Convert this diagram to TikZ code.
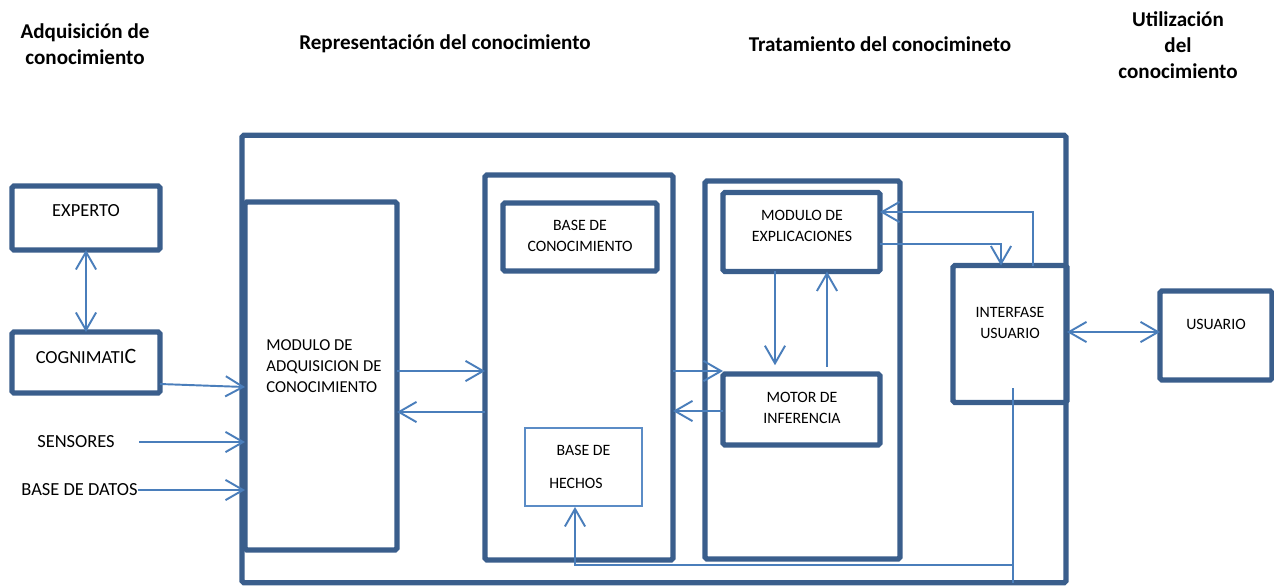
\documentclass[tikz,border=0pt]{standalone}
\usepackage{fontspec}
\setmainfont{Carlito}
\usetikzlibrary{arrows.meta}
\definecolor{caja}{HTML}{3A5E8C}
\definecolor{flecha}{HTML}{4A7EBB}
\definecolor{claro}{HTML}{5B8CC6}

\begin{document}
\begin{tikzpicture}[x=0.02cm,y=-0.02cm,
	bloque/.style={draw=caja,line width=3pt,rounded corners=1pt,inner sep=0pt,outer sep=0pt},
	texto/.style={font=\fontsize{9}{12}\selectfont,align=center,inner sep=0pt},
	entrada/.style={font=\fontsize{10.5}{12}\selectfont,inner sep=0pt},
	titulo/.style={font=\fontsize{12}{14.7}\selectfont\bfseries,align=center,inner sep=0pt},
	linea/.style={draw=flecha,line width=1.1pt},
	flujo/.style={linea,-{Straight Barb[length=10pt,width=11.5pt]}},
	doble/.style={linea,{Straight Barb[length=10pt,width=11.5pt]}-{Straight Barb[length=10pt,width=11.5pt]}}]
	\useasboundingbox (0,0) rectangle (1274,585);
	% titulos
	\node[titulo] (t1) at (85,44) {Adquisición de\\conocimiento};
	\node[titulo] (t2) at (445,44) {Representación del conocimiento};
	\node[titulo] (t3) at (880,44) {Tratamiento del conocimineto};
	\node[titulo] (t4) at (1178,45) {Utilización\\del\\conocimiento};
	% cajas
	\node[bloque,minimum width=16.48cm,minimum height=8.95cm] (marco) at (654,359) {};
	\node[bloque,minimum width=2.96cm,minimum height=1.28cm] (experto) at (86,218) {};
	\node[bloque,minimum width=2.96cm,minimum height=1.22cm] (cogni) at (86,362.5) {};
	\node[bloque,minimum width=3.04cm,minimum height=6.96cm] (adq) at (321,376) {};
	\node[bloque,minimum width=3.76cm,minimum height=7.7cm] (repre) at (579,367.5) {};
	\node[bloque,minimum width=3.08cm,minimum height=1.36cm] (basecon) at (580,237) {};
	\node[draw=claro,line width=1.1pt,inner sep=0pt,minimum width=2.34cm,minimum height=1.56cm] (hechos) at (583.5,467) {};
	\node[bloque,minimum width=3.9cm,minimum height=7.56cm] (trata) at (802.5,370) {};
	\node[bloque,minimum width=3.14cm,minimum height=1.58cm] (explic) at (801.5,232) {};
	\node[bloque,minimum width=3.14cm,minimum height=1.42cm] (motor) at (801.5,409.5) {};
	\node[bloque,minimum width=2.28cm,minimum height=2.74cm] (interfase) at (1010,334) {};
	\node[bloque,minimum width=2.24cm,minimum height=1.78cm] (usuario) at (1216,335.5) {};
	% textos
	\node[entrada] (experto-t) at (86,211) {EXPERTO};
	\node[entrada] (cogni-t) at (86,356) {COGNIMATI{\fontsize{12.5}{12}\selectfont C}};
	\node[entrada] (sensores) at (76,442) {SENSORES};
	\node[entrada] (datos) at (79.5,490) {BASE DE DATOS};
	\node[texto,font=\fontsize{9.5}{12}\selectfont,align=left,anchor=west] (adq-t) at (266,366) {MODULO DE\\ADQUISICION DE\\CONOCIMIENTO};
	\node[texto] (basecon-t) at (580,235.5) {BASE DE\\CONOCIMIENTO};
	\node[texto] (hechos-t1) at (583.5,450) {BASE DE};
	\node[texto] (hechos-t2) at (576,483) {HECHOS};
	\node[texto] (explic-t) at (802,225.5) {MODULO DE\\EXPLICACIONES};
	\node[texto] (motor-t) at (802,407.5) {MOTOR DE\\INFERENCIA};
	\node[texto] (interfase-t) at (1010,323) {INTERFASE\\USUARIO};
	\node[texto] (usuario-t) at (1216,324) {USUARIO};
	\coordinate (baja) at (1013,388);
	\coordinate (bus) at (1013,565);
	% flechas
	\draw[doble] (experto.south) -- (cogni.north);
	\draw[flujo] (cogni.east |- 0,384) -- (adq.west |- 0,387);
	\draw[flujo] (sensores.east) ++(24,0) -- (adq.west |- sensores.east);
	\draw[flujo] (datos.east) -- (adq.west |- datos.east);
	\draw[flujo] (adq.east |- 0,371) -- (repre.west |- 0,371);
	\draw[flujo] (repre.west |- 0,412) -- (adq.east |- 0,412);
	\draw[flujo] (repre.east |- 0,371) -- (motor.west |- 0,371);
	\draw[flujo] (motor.west |- 0,411) -- (repre.east |- 0,411);
	\draw[flujo,shorten >=5pt] (775,0 |- explic.south) -- (775,0 |- motor.north);
	\draw[flujo,shorten <=4pt] (827,0 |- motor.north) -- (827,0 |- explic.south);
	\draw[flujo] (1033,0 |- interfase.north) |- (explic.east |- 0,212);
	\draw[flujo] (explic.east |- 0,244) -| (1001,0 |- interfase.north);
	\draw[doble] (interfase.east |- 0,332) -- (usuario.west |- 0,332);
	\draw[linea] (baja) -- (baja |- marco.south);
	\draw[flujo] (bus) -| (hechos.south -| 575,0);
\end{tikzpicture}
\end{document}
